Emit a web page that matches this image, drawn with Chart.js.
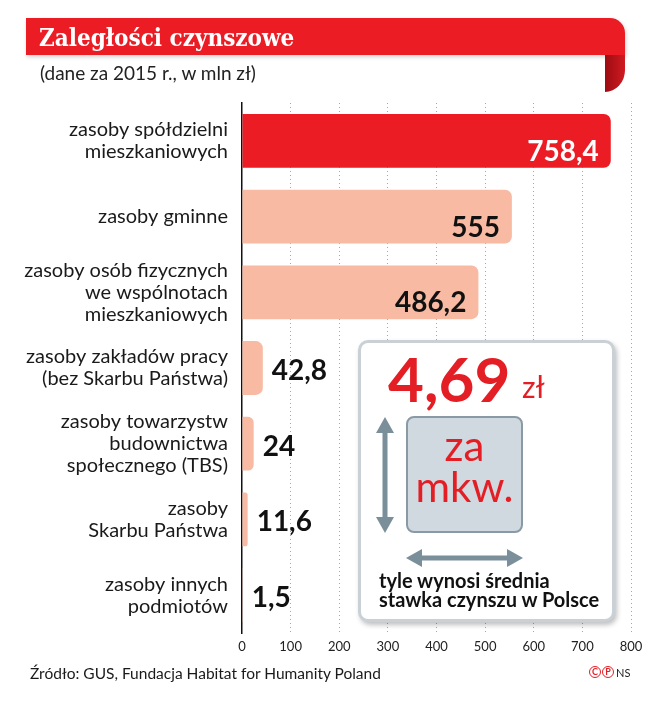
<!DOCTYPE html>
<html>
<head>
<meta charset="utf-8">
<script src="https://cdn.jsdelivr.net/npm/chart.js@4.4.0/dist/chart.umd.min.js"></script>
<style>
  body { margin: 0; background: #fff; }
  #wrap { position: relative; width: 657px; height: 703px; overflow: hidden; font-family: Lato, sans-serif; color: #1a1a1a; }
  #chart { position: absolute; left: 0; top: 0; }
  .abs { position: absolute; white-space: nowrap; }
  #band { left: 26px; top: 18px; width: 599px; height: 37px; background: #ec1c24; border-top-right-radius: 15px; box-shadow: 1px 2px 4px rgba(0,0,0,.18); }
  #curl { left: 605px; top: 55px; width: 20px; height: 37px; background: linear-gradient(to right, #9c0c12, #d01a21); border-bottom-right-radius: 20px 22px; }
  #title { left: 39px; top: 26px; font: bold 24px "DejaVu Serif Condensed", "DejaVu Serif", serif; font-stretch: condensed; line-height: 24px; color: #fff; }
  #subtitle { left: 40px; top: 62px; font-size: 19px; line-height: 1.2; color: #222; }
  #box { left: 358px; top: 340px; width: 257px; height: 282px; box-sizing: border-box; border: 3px solid #c9d1d6; border-radius: 10px; background: #fff; box-shadow: 2px 3px 5px rgba(0,0,0,.25); }
  #big { left: 388px; top: 341px; font-weight: bold; font-size: 62px; line-height: 1.2; color: #e31e24; }
  #zl { left: 522px; top: 368px; font-size: 30px; line-height: 1.2; color: #e31e24; }
  #square { left: 406px; top: 416px; width: 117px; height: 117px; box-sizing: border-box; border: 2px solid #8a9aa4; border-radius: 8px; background: #cfd9df; }
  #za { left: 406px; width: 117px; top: 425px; text-align: center; font-size: 42px; line-height: 41px; color: #e31e24; }
  #note { left: 379px; top: 571px; font-weight: bold; font-size: 20px; line-height: 19px; color: #111; }
  #source { left: 30px; top: 664px; font-size: 15.5px; line-height: 1.2; color: #1a1a1a; }
  .circ { top: 666px; width: 10px; height: 10px; border: 1.5px solid #e31e24; border-radius: 50%; color: #e31e24; font: bold 9px/10px Lato, sans-serif; text-align: center; }
  #ns { left: 616px; top: 666px; font-size: 11px; line-height: 1.2; color: #222; }
  svg.abs { overflow: visible; }
</style>
</head>
<body>
<div id="wrap">
  <canvas id="chart" width="657" height="703"></canvas>
  <div id="band" class="abs"></div>
  <div id="curl" class="abs"></div>
  <div id="title" class="abs">Zaległości czynszowe</div>
  <div id="subtitle" class="abs">(dane za 2015 r., w mln zł)</div>

  <div id="box" class="abs"></div>
  <div id="big" class="abs">4,69</div>
  <div id="zl" class="abs">zł</div>
  <div id="square" class="abs"></div>
  <div id="za" class="abs">za<br>mkw.</div>
  <svg class="abs" style="left:0;top:0" width="657" height="703">
    <g fill="#7b8f9b">
      <rect x="382.5" y="430" width="5" height="90"/>
      <polygon points="385,417 394,433 376,433"/>
      <polygon points="385,533 394,517 376,517"/>
      <rect x="419" y="555.5" width="91" height="5"/>
      <polygon points="406,558 422,549 422,567"/>
      <polygon points="523,558 507,549 507,567"/>
    </g>
  </svg>
  <div id="note" class="abs">tyle wynosi średnia<br>stawka czynszu w Polsce</div>

  <div id="source" class="abs">Źródło: GUS, Fundacja Habitat for Humanity Poland</div>
  <div class="abs circ" style="left:589px">C</div>
  <div class="abs circ" style="left:602px">P</div>
  <div id="ns" class="abs">NS</div>
</div>

<script>
// categories (multi-line labels) and values, in mln zł
const categories = [
  ['zasoby spółdzielni', 'mieszkaniowych'],
  'zasoby gminne',
  ['zasoby osób fizycznych', 'we wspólnotach', 'mieszkaniowych'],
  ['zasoby zakładów pracy', '(bez Skarbu Państwa)'],
  ['zasoby towarzystw', 'budownictwa', 'społecznego (TBS)'],
  ['zasoby', 'Skarbu Państwa'],
  ['zasoby innych', 'podmiotów']
];
const values = [758.4, 555, 486.2, 42.8, 24, 11.6, 1.5];
const valueLabels = ['758,4', '555', '486,2', '42,8', '24', '11,6', '1,5'];
const xTicks = [0, 100, 200, 300, 400, 500, 600, 700, 800];

const barColors = values.map((v, i) => i === 0 ? '#ec1c24' : '#f8baa3');

// draw value labels at the end of each bar
const valueLabelPlugin = {
  id: 'valueLabels',
  afterDatasetsDraw(chart) {
    const ctx = chart.ctx;
    const meta = chart.getDatasetMeta(0);
    ctx.save();
    ctx.font = 'bold 28px Lato';
    ctx.textBaseline = 'alphabetic';
    meta.data.forEach((bar, i) => {
      if (values[i] > 300) {
        ctx.textAlign = 'right';
        ctx.fillStyle = i === 0 ? '#fff' : '#111';
        ctx.fillText(valueLabels[i], bar.x - 12, bar.y + 20);
      } else {
        ctx.textAlign = 'left';
        ctx.fillStyle = '#111';
        ctx.fillText(valueLabels[i], bar.x + 9, bar.y + 12);
      }
    });
    ctx.restore();
  }
};

const ctx = document.getElementById('chart').getContext('2d');
const chart = new Chart(ctx, {
  type: 'bar',
  data: {
    labels: categories,
    datasets: [{
      data: values,
      backgroundColor: barColors,
      borderRadius: 7,
      borderSkipped: 'start',
      barPercentage: 0.71,
      categoryPercentage: 1
    }]
  },
  options: {
    indexAxis: 'y',
    responsive: false,
    animation: false,
    layout: { padding: { top: 103, right: 26, bottom: 0, left: 0 } },
    plugins: { legend: { display: false }, tooltip: { enabled: false } },
    scales: {
      x: {
        min: xTicks[0],
        max: xTicks[xTicks.length - 1],
        afterBuildTicks(scale) { scale.ticks = xTicks.map(v => ({ value: v })); },
        afterFit(scale) { scale.height = 70; },
        ticks: { color: '#222', font: { family: 'Lato', size: 13 }, padding: 6, maxRotation: 0 },
        grid: {
          color: c => c.tick && c.tick.value === 0 ? 'rgba(0,0,0,0)' : '#a6a6a6',
          lineWidth: 1,
          drawTicks: false
        },
        border: { display: false, dash: [1, 3] }
      },
      y: {
        afterFit(scale) { scale.width = 242; },
        ticks: { color: '#1a1a1a', font: { family: 'Lato', size: 20, lineHeight: 1.1 }, padding: 14 },
        grid: { display: false, drawTicks: false },
        border: { display: true, color: '#111', width: 1.5 }
      }
    }
  },
  plugins: [valueLabelPlugin]
});
</script>
</body>
</html>
